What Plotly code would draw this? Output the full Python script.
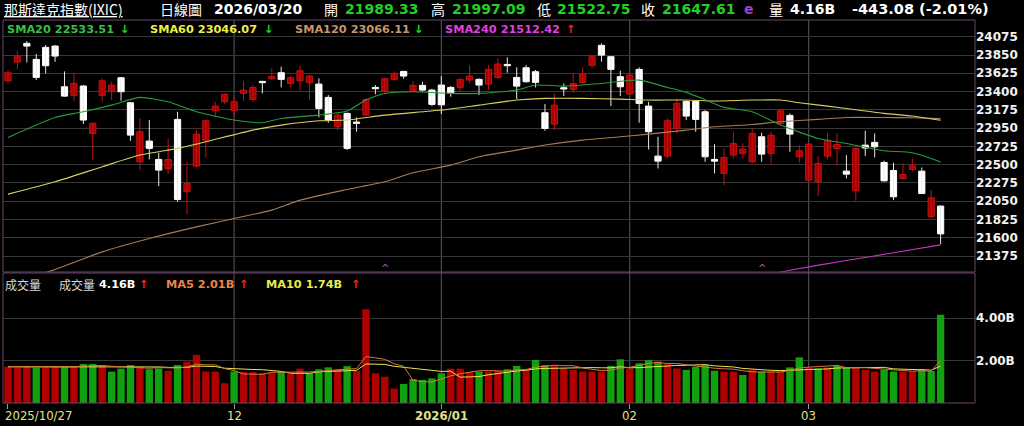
import plotly.graph_objects as go

# ---------------- data ----------------
months = {
    "2025-10": [27, 28, 29, 30, 31],
    "2025-11": [3, 4, 5, 6, 7, 10, 11, 12, 13, 14, 17, 18, 19, 20, 21, 24, 25, 26, 28],
    "2025-12": [1, 2, 3, 4, 5, 8, 9, 10, 11, 12, 15, 16, 17, 18, 19, 22, 23, 24, 26, 29, 30, 31],
    "2026-01": [2, 5, 6, 7, 8, 9, 12, 13, 14, 15, 16, 20, 21, 22, 23, 26, 27, 28, 29, 30],
    "2026-02": [2, 3, 4, 5, 6, 9, 10, 11, 12, 13, 17, 18, 19, 20, 23, 24, 25, 26, 27],
    "2026-03": [2, 3, 4, 5, 6, 9, 10, 11, 12, 13, 16, 17, 18, 19, 20],
}
dates = [f"{m}-{d:02d}" for m, ds in months.items() for d in ds]

opens = [23533, 23763, 23993, 23796, 23944, 23960, 23459, 23353, 23468, 22884,
         23353, 23410, 23570, 23262, 22535, 22790, 22564, 22449, 23057, 22166,
         22482, 22802, 23164, 23274, 23164, 23377, 23303, 23525, 23558, 23632,
         23500, 23533, 23509, 23492, 23328, 22966, 23131, 23024, 23110, 23451,
         23406, 23550, 23648, 23406, 23476, 23418, 23480, 23451, 23451, 23541,
         23550, 23492, 23574, 23734, 23574, 23693, 23644, 23139, 22999, 23447,
         23426, 23509, 23722, 23969, 23829, 23583, 23369, 23673, 23221, 22605,
         22605, 22946, 23279, 23279, 23151, 22564, 22392, 22618, 22638, 22535,
         22843, 22638, 23007, 23106, 22597, 22309, 22289, 22605, 22699, 22420,
         22178, 22740, 22774, 22527, 22428, 22330, 22441, 22420, 21858, 21989.33]
highs = [23665, 23903, 24022, 23862, 23973, 23973, 23648, 23632, 23480, 23020,
         23562, 23521, 23580, 23270, 23069, 23049, 22646, 22823, 23151, 22535,
         22925, 23057, 23274, 23377, 23336, 23533, 23480, 23533, 23685, 23706,
         23591, 23714, 23603, 23562, 23357, 23131, 23140, 23081, 23316, 23480,
         23570, 23640, 23656, 23529, 23521, 23435, 23591, 23467, 23562, 23726,
         23562, 23726, 23808, 23821, 23698, 23726, 23665, 23246, 23377, 23500,
         23624, 23698, 23850, 23993, 23837, 23656, 23624, 23698, 23274, 22843,
         23069, 23316, 23287, 23290, 23172, 22753, 22700, 22905, 22761, 22946,
         22893, 22905, 23180, 23131, 22741, 22761, 22605, 22893, 22884, 22617,
         22712, 22917, 22884, 22548, 22523, 22515, 22576, 22465, 22186, 21997.09]
lows = [23501, 23673, 23759, 23541, 23624, 23767, 23336, 23287, 23000, 22556,
        23274, 23295, 23287, 22794, 22433, 22564, 22235, 22383, 22042, 21890,
        22465, 22589, 23081, 23246, 23081, 23287, 23274, 23377, 23541, 23451,
        23451, 23418, 23295, 23081, 23016, 22925, 22680, 22905, 23098, 23365,
        23377, 23533, 23558, 23390, 23398, 23221, 23123, 23336, 23398, 23500,
        23357, 23418, 23550, 23632, 23307, 23509, 23451, 22917, 22925, 23344,
        23385, 23500, 23685, 23767, 23221, 23344, 23357, 23016, 22687, 22453,
        22576, 22884, 23049, 22905, 22535, 22392, 22248, 22576, 22576, 22515,
        22535, 22515, 22999, 22658, 22523, 22301, 22112, 22564, 22494, 22330,
        22055, 22605, 22589, 22289, 22063, 22318, 22412, 22137, 21850, 21522.75]
closes = [23632, 23837, 23960, 23574, 23718, 23837, 23344, 23500, 23049, 23008,
          23533, 23480, 23398, 22864, 22905, 22700, 22433, 22564, 22071, 22268,
          22876, 23040, 23221, 23365, 23274, 23418, 23451, 23509, 23583, 23550,
          23570, 23656, 23591, 23192, 23049, 23110, 22700, 23008, 23303, 23435,
          23558, 23624, 23591, 23476, 23418, 23242, 23236, 23385, 23550, 23591,
          23480, 23673, 23739, 23718, 23467, 23521, 23513, 22946, 23233, 23431,
          23500, 23611, 23829, 23849, 23673, 23459, 23603, 23254, 22905, 22543,
          23040, 23254, 23098, 23057, 22597, 22543, 22589, 22761, 22691, 22884,
          22630, 22864, 23164, 22876, 22671, 22753, 22515, 22802, 22749, 22383,
          22700, 22705, 22720, 22301, 22104, 22379, 22486, 22145, 22090.69, 21647.61]
# volume in billions
volumes = [1.71, 1.68, 1.71, 1.67, 1.68, 1.71, 1.71, 1.74, 1.84, 1.84,
           1.74, 1.48, 1.62, 1.79, 1.71, 1.59, 1.63, 1.52, 1.79, 1.95,
           2.27, 1.49, 1.48, 0.93, 1.48, 1.46, 1.46, 1.40, 1.43, 1.48,
           1.37, 1.62, 1.40, 1.59, 1.68, 1.59, 1.74, 1.52, 4.42, 1.40,
           1.24, 0.68, 0.90, 1.13, 1.09, 1.16, 1.40, 1.62, 1.62, 1.46,
           1.48, 1.48, 1.51, 1.59, 1.75, 1.56, 2.03, 1.79, 1.78, 1.63,
           1.56, 1.48, 1.48, 1.49, 1.75, 2.06, 1.62, 1.87, 2.03, 1.95,
           1.83, 1.63, 1.56, 1.71, 1.79, 1.52, 1.48, 1.48, 1.32, 1.56,
           1.48, 1.48, 1.48, 1.68, 2.15, 1.65, 1.63, 1.68, 1.75, 1.66,
           1.68, 1.56, 1.48, 1.56, 1.48, 1.48, 1.48, 1.60, 1.51, 4.16]
vol_ma5 = [1.71, 1.71, 1.71, 1.71, 1.69, 1.69, 1.70, 1.70, 1.74, 1.77,
           1.77, 1.73, 1.70, 1.69, 1.67, 1.64, 1.67, 1.65, 1.65, 1.70,
           1.83, 1.80, 1.80, 1.62, 1.53, 1.37, 1.36, 1.35, 1.45, 1.45,
           1.43, 1.46, 1.46, 1.49, 1.53, 1.58, 1.60, 1.62, 2.19, 2.13,
           2.06, 1.85, 1.73, 1.07, 1.01, 0.99, 1.14, 1.28, 1.38, 1.45,
           1.52, 1.53, 1.51, 1.50, 1.56, 1.58, 1.69, 1.74, 1.78, 1.76,
           1.76, 1.65, 1.59, 1.53, 1.55, 1.65, 1.68, 1.76, 1.87, 1.91,
           1.86, 1.86, 1.80, 1.74, 1.70, 1.64, 1.61, 1.60, 1.52, 1.47,
           1.46, 1.46, 1.46, 1.54, 1.65, 1.69, 1.72, 1.76, 1.77, 1.67,
           1.68, 1.67, 1.63, 1.59, 1.55, 1.51, 1.50, 1.52, 1.51, 2.01]
vol_ma10 = [1.71, 1.71, 1.71, 1.71, 1.71, 1.71, 1.71, 1.71, 1.72, 1.73,
            1.73, 1.71, 1.70, 1.72, 1.72, 1.71, 1.70, 1.68, 1.67, 1.68,
            1.74, 1.74, 1.72, 1.64, 1.61, 1.60, 1.58, 1.57, 1.54, 1.49,
            1.40, 1.41, 1.40, 1.47, 1.49, 1.50, 1.53, 1.54, 1.84, 1.83,
            1.82, 1.73, 1.68, 1.63, 1.57, 1.53, 1.49, 1.50, 1.22, 1.23,
            1.25, 1.33, 1.40, 1.44, 1.51, 1.55, 1.61, 1.63, 1.64, 1.66,
            1.67, 1.67, 1.67, 1.66, 1.66, 1.71, 1.66, 1.67, 1.70, 1.73,
            1.76, 1.77, 1.78, 1.80, 1.81, 1.75, 1.74, 1.70, 1.63, 1.59,
            1.55, 1.54, 1.53, 1.53, 1.56, 1.58, 1.59, 1.61, 1.65, 1.66,
            1.68, 1.69, 1.69, 1.68, 1.61, 1.60, 1.58, 1.57, 1.55, 1.74]

# moving-average lines (trading-day index -> value)
sma20_idx = [0, 5, 8, 11, 14, 17, 20, 24, 27, 29, 33, 36, 38, 40, 43, 47, 50, 54, 56, 59,
             63, 67, 70, 72, 74, 76, 79, 82, 86, 89, 93, 96, 99]
sma20_val = [22835, 23081, 23151, 23233, 23328, 23274, 23151, 23049, 23016, 23069, 23110, 23160,
             23295, 23377, 23398, 23377, 23377, 23418, 23480, 23467, 23500, 23541, 23451, 23390,
             23300, 23205, 23151, 22987, 22823, 22761, 22671, 22646, 22533.51]
sma60_idx = [0, 5, 10, 14, 18, 21, 26, 29, 33, 36, 40, 46, 50, 54, 57, 61, 65, 68, 72, 75,
             79, 82, 84, 89, 93, 96, 99]
sma60_val = [22137, 22289, 22474, 22618, 22700, 22782, 22925, 22987, 23040, 23049, 23110, 23172,
             23233, 23295, 23316, 23316, 23307, 23295, 23295, 23283, 23295, 23295, 23262, 23192,
             23131, 23098, 23046.07]
sma120_idx = [0, 5, 10, 15, 20, 24, 28, 31, 36, 40, 43, 47, 50, 54, 57, 61, 65, 68, 72, 75,
              79, 82, 86, 89, 93, 96, 99]
sma120_val = [21030, 21209, 21426, 21591, 21734, 21837, 21940, 22063, 22194, 22289, 22400, 22494,
              22597, 22679, 22741, 22802, 22843, 22876, 22925, 22966, 22995, 23028, 23057, 23081,
              23081, 23077, 23066.11]
sma240_idx = [81, 83, 89, 94, 99]
sma240_val = [21150, 21200, 21320, 21414, 21512.42]
# small purple markers at the foot of the price pane
flag_idx = [40, 80]

price_ticks = [21375, 21600, 21825, 22050, 22275, 22500, 22725, 22950, 23175, 23400, 23625, 23850, 24075]
vol_ticks = [2, 4]
vol_ticktext = ["2.00B", "4.00B"]
month_tick_idx = [0, 24, 46, 66, 85]
month_tick_text = ["2025/10/27", "12", "2026/01", "02", "03"]

# ---------------- style helpers ----------------
W, H = 1024, 426
ML, MR, MT, MB = 3, 49, 20, 23
PW, PH = W - ML - MR, H - MT - MB


def px(x):
    return (x - ML) / PW


def py(y):
    return (H - MB - y) / PH


RED_FILL = "#a80000"
RED_LINE = "#c81010"
WHITE = "#ffffff"
VOL_RED = "#b00000"
VOL_GREEN = "#10a010"
NUMFONT = "DejaVu Sans"
CJK = "Noto Sans CJK TC"

fig = go.Figure()

# wicks
for up in (True, False):
    xs, ys = [], []
    for d, o, h, l, c in zip(dates, opens, highs, lows, closes):
        if (c >= o) == up:
            xs += [d, d, None]
            ys += [l, h, None]
    fig.add_trace(go.Scatter(x=xs, y=ys, mode="lines", xaxis="x", yaxis="y",
                             line=dict(color=RED_LINE if up else "#e8e8e8", width=1),
                             hoverinfo="skip", connectgaps=False))

# bodies
body_base = [min(o, c) for o, c in zip(opens, closes)]
body_h = [max(abs(c - o), 13) for o, c in zip(opens, closes)]
body_fill = [RED_FILL if c >= o else WHITE for o, c in zip(opens, closes)]
body_line = [RED_LINE if c >= o else WHITE for o, c in zip(opens, closes)]
fig.add_trace(go.Bar(x=dates, y=body_h, base=body_base, width=0.66, xaxis="x", yaxis="y",
                     marker=dict(color=body_fill, line=dict(color=body_line, width=1)),
                     hoverinfo="skip"))

# SMA lines
for idx, vals, col in [(sma120_idx, sma120_val, "#a77c58"),
                       (sma60_idx, sma60_val, "#d9cf62"),
                       (sma20_idx, sma20_val, "#2a9a3a"),
                       (sma240_idx, sma240_val, "#c437c4")]:
    fig.add_trace(go.Scatter(x=[dates[i] for i in idx], y=vals, mode="lines", xaxis="x", yaxis="y",
                             line=dict(color=col, width=1.1, shape="spline", smoothing=0.6),
                             hoverinfo="skip"))

# volume bars
vol_cols = [VOL_RED if (i == 0 or closes[i] >= closes[i - 1]) else VOL_GREEN for i in range(len(closes))]
fig.add_trace(go.Bar(x=dates, y=volumes, width=0.78, xaxis="x", yaxis="y2",
                     marker=dict(color=vol_cols, line=dict(width=0)), hoverinfo="skip"))
fig.add_trace(go.Scatter(x=dates, y=vol_ma10, mode="lines", xaxis="x", yaxis="y2",
                         line=dict(color="#e6e64a", width=1), hoverinfo="skip"))
fig.add_trace(go.Scatter(x=dates, y=vol_ma5, mode="lines", xaxis="x", yaxis="y2",
                         line=dict(color="#d8783c", width=1), hoverinfo="skip"))

shapes = []
# month separators
for i in month_tick_idx[1:]:
    shapes.append(dict(type="line", xref="x", yref="paper", x0=i, x1=i, y0=0, y1=1,
                       line=dict(color="#5a5a5a", width=1), layer="below"))
# pane borders
BORDER = "#6a466a"
shapes.append(dict(type="rect", xref="paper", yref="paper", x0=0, x1=1, y0=py(272), y1=1,
                   line=dict(color=BORDER, width=1), fillcolor="rgba(0,0,0,0)", layer="above"))
shapes.append(dict(type="rect", xref="paper", yref="paper", x0=0, x1=1, y0=0, y1=py(273),
                   line=dict(color=BORDER, width=1), fillcolor="rgba(0,0,0,0)", layer="above"))

ann = []


def text(x, y, s, color, size=12, family=NUMFONT, bold=True, anchor="left"):
    ann.append(dict(xref="paper", yref="paper", x=px(x), y=py(y), text=s, showarrow=False,
                    xanchor=anchor, yanchor="middle",
                    font=dict(family=family, size=size, color=color, weight="bold" if bold else "normal")))


# header row
GREEN_T = "#22d022"
text(2, 9, "<u>那斯達克指數(IXIC)</u>", "#ffffff", 14, CJK, False)
text(158, 9, "日線圖", "#ffffff", 14, CJK, False)
text(212, 9, "2026/03/20", "#ffffff", 14)
text(322, 9, "開", "#ffffff", 14, CJK, False)
text(343, 9, f"{opens[-1]:.2f}", GREEN_T, 14)
text(429, 9, "高", "#ffffff", 14, CJK, False)
text(450, 9, f"{highs[-1]:.2f}", GREEN_T, 14)
text(535, 9, "低", "#ffffff", 14, CJK, False)
text(555, 9, f"{lows[-1]:.2f}", GREEN_T, 14)
text(639, 9, "收", "#ffffff", 14, CJK, False)
text(660, 9, f"{closes[-1]:.2f}", GREEN_T, 14)
text(742, 9, "e", "#a040d0", 14)
text(767, 9, "量", "#ffffff", 14, CJK, False)
text(788, 9, f"{volumes[-1]:.2f}B", "#ffffff", 14)
chg = closes[-1] - closes[-2]
text(850, 9, f"{chg:.2f} ({chg / closes[-2] * 100:.2f}%)", "#ffffff", 14.5)

# price legend
LS = 11.3
text(5, 29, f"SMA20 {sma20_val[-1]:.2f}", "#33c044", LS)
text(118, 29, "↓", "#22dd22", LS)
text(148, 29, f"SMA60 {sma60_val[-1]:.2f}", "#eeee44", LS)
text(262, 29, "↓", "#22dd22", LS)
text(293, 29, f"SMA120 {sma120_val[-1]:.2f}", "#c8956a", LS)
text(412, 29, "↓", "#22dd22", LS)
text(443, 29, f"SMA240 {sma240_val[-1]:.2f}", "#e040e0", LS)
text(564, 29, "↑", "#ff2020", LS)

# volume legend
text(3, 284, "成交量", "#d8d8d8", 12, CJK, False)
text(57, 284, "成交量", "#d8d8d8", 12, CJK, False)
text(97, 284, f"{volumes[-1]:.2f}B", "#ffffff", LS)
text(137, 284, "↑", "#ff2020", LS)
text(164, 284, f"MA5 {vol_ma5[-1]:.2f}B", "#e8864a", LS)
text(237, 284, "↑", "#ff2020", LS)
text(264, 284, f"MA10 {vol_ma10[-1]:.2f}B", "#eaea4a", LS)
text(349, 284, "↑", "#ff2020", LS)

# small carets at the bottom of the price pane
for i in flag_idx:
    ann.append(dict(xref="x", yref="paper", x=i, y=py(268), text="^", showarrow=False,
                    xanchor="center", yanchor="middle",
                    font=dict(family=NUMFONT, size=10, color="#b050c0")))

# x labels
for k, (i, lab) in enumerate(zip(month_tick_idx, month_tick_text)):
    ann.append(dict(xref="x" if k else "paper", yref="paper",
                    x=i if k else px(3), y=py(415), text=lab, showarrow=False,
                    xanchor="center" if k else "left", yanchor="middle",
                    font=dict(family="Liberation Sans Narrow, DejaVu Sans Condensed", size=13,
                              color="#e0e08c", weight="bold" if lab == "2026/01" else "normal")))

fig.update_layout(
    width=W, height=H, margin=dict(l=ML, r=MR, t=MT, b=MB),
    paper_bgcolor="#000000", plot_bgcolor="#000000", showlegend=False,
    barmode="overlay", shapes=shapes, annotations=ann,
    xaxis=dict(type="category", categoryorder="array", categoryarray=dates,
               range=[-0.53, 102.65], anchor="y2", showgrid=False, zeroline=False, showline=False,
               ticks="outside", ticklen=5, tickcolor="#9a9a9a", tickwidth=1,
               tickvals=[dates[i] for i in month_tick_idx], showticklabels=False, fixedrange=True),
    yaxis=dict(domain=[py(272), 1], range=[21178, 24281], side="right",
               tickvals=price_ticks, ticktext=[str(v) for v in price_ticks],
               gridcolor="#383838", gridwidth=1, zeroline=False, showline=False, ticks="",
               tickfont=dict(family=NUMFONT, size=12, color="#f2f2f2", weight="bold")),
    yaxis2=dict(domain=[0, py(273)], range=[0, 6.13], side="right",
                tickvals=vol_ticks, ticktext=vol_ticktext,
                gridcolor="#383838", gridwidth=1, zeroline=False, showline=False, ticks="",
                tickfont=dict(family=NUMFONT, size=12, color="#f2f2f2", weight="bold")),
)

fig.write_html("out.html", config={"displayModeBar": False},
               post_script="document.body.style.margin='0px';document.body.style.overflow='hidden';")
